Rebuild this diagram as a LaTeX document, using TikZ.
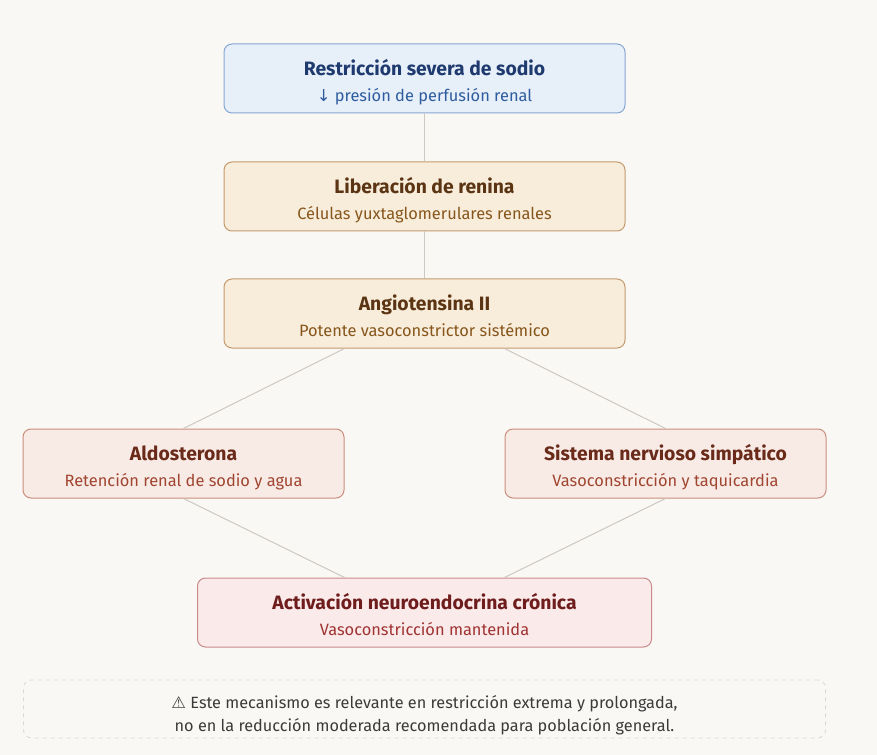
\documentclass[tikz,border=0pt]{standalone}
\usepackage{fontspec}
\setmainfont{Fira Sans}
\newfontfamily\symfont{DejaVu Sans}
\usepackage{xcolor}
\usetikzlibrary{positioning}

\definecolor{bgcol}{HTML}{FAF8F4}
\definecolor{linecol}{HTML}{CDC8C2}
\definecolor{bluefill}{HTML}{E7EFF9}
\definecolor{blueline}{HTML}{86A6D4}
\definecolor{bluetitle}{HTML}{1E3A6E}
\definecolor{bluesub}{HTML}{2E5C9E}
\definecolor{tanfill}{HTML}{F8EDDB}
\definecolor{tanline}{HTML}{C49A6C}
\definecolor{tantitle}{HTML}{5B3413}
\definecolor{tansub}{HTML}{87561C}
\definecolor{rosefill}{HTML}{F8EBE6}
\definecolor{roseline}{HTML}{C98E7C}
\definecolor{rosetitle}{HTML}{6A2A1A}
\definecolor{rosesub}{HTML}{A04530}
\definecolor{redfill}{HTML}{FAEAEA}
\definecolor{redline}{HTML}{C98A8A}
\definecolor{redtitle}{HTML}{6E1C1C}
\definecolor{redsub}{HTML}{A03333}
\definecolor{notecol}{HTML}{3A3A3A}

\newcommand{\boxtext}[4]{{\color{#1}\fontsize{14.5}{20}\selectfont\bfseries #2}\\{\color{#3}\fontsize{12.3}{20}\selectfont #4}}

\begin{document}
\begin{tikzpicture}[
    x=0.75pt, y=-0.75pt,
    node distance=36.75pt,
    box/.style={rectangle, draw, rounded corners=6pt, line width=0.75pt, minimum width=300.75pt, minimum height=51.75pt, align=center, inner sep=0pt, font=\fontsize{12}{20}\selectfont, text height=43.4pt, text depth=8.2pt},
    sidebox/.style={box, minimum width=240.75pt},
    link/.style={draw=linecol, line width=0.75pt},
]
    % background and size
    \fill[bgcol] (0,0) rectangle (877,755);
    \useasboundingbox (0,0) rectangle (877,755);

    % main chain
    \node[box, fill=bluefill, draw=blueline] (sodio) at (424.5,78.5)
        {\boxtext{bluetitle}{Restricción severa de sodio}{bluesub}{{\symfont ↓} presión de perfusión renal}};
    \node[box, fill=tanfill, draw=tanline, below=36pt of sodio] (renina)
        {\boxtext{tantitle}{Liberación de renina}{tansub}{Células yuxtaglomerulares renales}};
    \node[box, fill=tanfill, draw=tanline, below=35.25pt of renina] (angio)
        {\boxtext{tantitle}{Angiotensina II}{tansub}{Potente vasoconstrictor sistémico}};

    % two branches
    \node[sidebox, fill=rosefill, draw=roseline, below=60pt of angio, xshift=-180.75pt] (aldo)
        {\boxtext{rosetitle}{Aldosterona}{rosesub}{Retención renal de sodio y agua}};
    \node[sidebox, fill=rosefill, draw=roseline, below=60pt of angio, xshift=180.75pt] (simpa)
        {\boxtext{rosetitle}{Sistema nervioso simpático}{rosesub}{Vasoconstricción y taquicardia}};

    % result
    \node[box, fill=redfill, draw=redline, minimum width=340.5pt, below=59.25pt of aldo, xshift=180.75pt] (cronica)
        {\boxtext{redtitle}{Activación neuroendocrina crónica}{redsub}{Vasoconstricción mantenida}};

    % note
    \node[rectangle, draw=linecol!70, dashed, rounded corners=6pt, line width=0.6pt, minimum width=601.5pt, minimum height=43.5pt, inner sep=0pt, align=center, font=\fontsize{12.2}{17.25}\selectfont, text=notecol, text height=39pt, text depth=4.5pt, below=24pt of cronica] (nota)
        {{\symfont ⚠} Este mecanismo es relevante en restricción extrema y prolongada,\\no en la reducción moderada recomendada para población general.};

    % connectors
    \draw[link] (sodio) -- (renina);
    \draw[link] (renina) -- (angio);
    \draw[link] (angio.south -| aldo.east) -- (aldo.north);
    \draw[link] (angio.south -| simpa.west) -- (simpa.north);
    \draw[link] (aldo.south) -- (cronica.north -| aldo.east);
    \draw[link] (simpa.south) -- (cronica.north -| simpa.west);

\end{tikzpicture}
\end{document}
